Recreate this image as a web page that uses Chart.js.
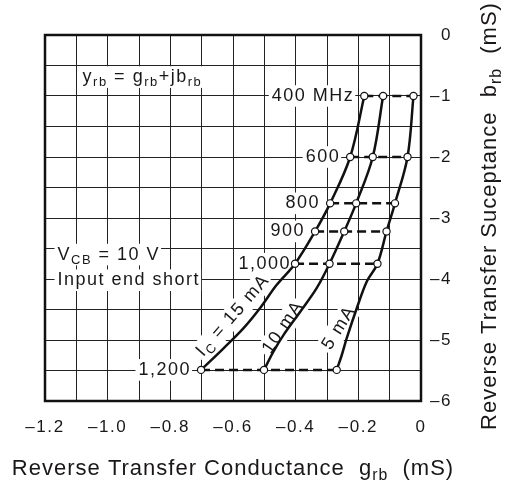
<!DOCTYPE html>
<html>
<head>
<meta charset="utf-8">
<script src="https://cdn.jsdelivr.net/npm/chart.js@4.4.1/dist/chart.umd.min.js"></script>
<style>
html, body { margin: 0; padding: 0; background: #fff; }
#wrap { width: 506px; height: 491px; position: relative; }
</style>
</head>
<body>
<div id="wrap"><canvas id="myChart"></canvas></div>
<script>
// marked points, one per frequency
var freqLabels = ['400 MHz', '600', '800', '900', '1,000', '1,200']
var suceptance = [-1, -2, -2.76, -3.22, -3.75, -5.49]
var g15mA = [-0.181, -0.226, -0.290, -0.338, -0.402, -0.702]
var g10mA = [-0.121, -0.154, -0.207, -0.245, -0.292, -0.501]
var g5mA = [-0.024, -0.043, -0.083, -0.110, -0.139, -0.269]
// extra points read along each curve between 1,000 and 1,200 MHz
var trace15G = [-0.461, -0.514, -0.567, -0.631]
var trace15B = [-4.10, -4.48, -4.81, -5.14]
var trace10G = [-0.333, -0.386, -0.439, -0.471]
var trace10B = [-4.15, -4.54, -4.92, -5.19]
var trace5G = [-0.173, -0.205, -0.237, -0.253]
var trace5B = [-4.04, -4.48, -4.97, -5.25]
var xTickValues = [-1.2, -1.0, -0.8, -0.6, -0.4, -0.2, 0]
var xTickLabels = ['–1.2', '–1.0', '–0.8', '–0.6', '–0.4', '–0.2', '0']
var yTickValues = [0, -1, -2, -3, -4, -5, -6]
var yTickLabels = ['0', '–1', '–2', '–3', '–4', '–5', '–6']

var FONT = "'Liberation Sans', Arial, sans-serif"
var INK = '#1a1718'

function pickLabel(v, values, labels) {
  for (var k = 0; k < values.length; k++) {
    if (Math.abs(v - values[k]) < 1e-6) return labels[k]
  }
  return ''
}

// text with subscripts, list = [{t, sub}]
function drawRich(ctx, list, x, y, size, align, box) {
  ctx.save()
  ctx.letterSpacing = size > 19 ? '1px' : '1.5px'
  var w = 0
  list.forEach(function (p) {
    ctx.font = (p.sub ? size * 0.72 : size) + 'px ' + FONT
    p.w = ctx.measureText(p.t).width
    w += p.w
  })
  var x0 = align === 'right' ? x - w : (align === 'center' ? x - w / 2 : x)
  if (box) {
    ctx.fillStyle = '#fff'
    ctx.fillRect(x0 - 3, y - size * 0.6, w + 4, size * 1.2)
  }
  ctx.fillStyle = INK
  ctx.textBaseline = 'middle'
  ctx.textAlign = 'left'
  list.forEach(function (p) {
    ctx.font = (p.sub ? size * 0.72 : size) + 'px ' + FONT
    ctx.fillText(p.t, x0, p.sub ? y + size * 0.32 : y)
    x0 += p.w
  })
  ctx.restore()
}

function rotated(ctx, list, x, y, size, angle, box) {
  ctx.save()
  ctx.translate(x, y)
  ctx.rotate(angle * Math.PI / 180)
  drawRich(ctx, list, 0, 0, size, 'center', box)
  ctx.restore()
}

var notes = {
  id: 'notes',
  beforeUpdate: function (chart) { chart.ctx.letterSpacing = '1.6px' },
  beforeDraw: function (chart) { chart.ctx.letterSpacing = '1.6px' },
  beforeDatasetsDraw: function (chart) {
    var ctx = chart.ctx, xs = chart.scales.x, ys = chart.scales.y, a = chart.chartArea
    ctx.save()
    ctx.strokeStyle = '#111'
    ctx.lineWidth = 2.5
    ctx.strokeRect(a.left, a.top, a.right - a.left, a.bottom - a.top)
    ctx.restore()

    freqLabels.forEach(function (f, i) {
      var gap = i === 4 ? 4 : 10
      drawRich(ctx, [{ t: f }], xs.getPixelForValue(g15mA[i]) - gap, ys.getPixelForValue(suceptance[i]), 18, 'right', true)
    })

    drawRich(ctx, [{ t: 'y' }, { t: 'rb', sub: true }, { t: ' = g' }, { t: 'rb', sub: true }, { t: '+jb' }, { t: 'rb', sub: true }],
      xs.getPixelForValue(-1.08), ys.getPixelForValue(-0.69), 18, 'left', true)
    drawRich(ctx, [{ t: 'V' }, { t: 'CB', sub: true }, { t: ' = 10 V' }],
      xs.getPixelForValue(-1.16), ys.getPixelForValue(-3.6), 18, 'left', true)
    drawRich(ctx, [{ t: 'Input end short' }],
      xs.getPixelForValue(-1.16), ys.getPixelForValue(-4.02), 18, 'left', true)

    rotated(ctx, [{ t: 'I' }, { t: 'C', sub: true }, { t: ' = 15 mA' }],
      xs.getPixelForValue(-0.60), ys.getPixelForValue(-4.60), 18, -49, true)
    rotated(ctx, [{ t: '10 mA' }],
      xs.getPixelForValue(-0.44), ys.getPixelForValue(-4.79), 18, -56, true)
    rotated(ctx, [{ t: '5 mA' }],
      xs.getPixelForValue(-0.262), ys.getPixelForValue(-4.8), 18, -58, true)
  },
  afterDraw: function (chart) {
    var ctx = chart.ctx
    drawRich(ctx, [{ t: 'Reverse Transfer Conductance  g' }, { t: 'rb', sub: true }, { t: '  (mS)' }],
      233, 469, 22, 'center', false)
    rotated(ctx, [{ t: 'Reverse Transfer Suceptance  b' }, { t: 'rb', sub: true }, { t: '  (mS)' }],
      490, 216, 22, -90, false)
  }
}

function curve(g, tg, tb) {
  var pts = []
  for (var k = 0; k < 5; k++) pts.push({ x: g[k], y: suceptance[k] })
  for (k = 0; k < tg.length; k++) pts.push({ x: tg[k], y: tb[k] })
  pts.push({ x: g[5], y: suceptance[5] })
  return {
    data: pts,
    borderColor: '#111',
    borderWidth: 2.5,
    tension: 0.35,
    pointRadius: 0
  }
}

function markers(g) {
  return {
    data: suceptance.map(function (b, i) { return { x: g[i], y: b } }),
    showLine: false,
    pointRadius: 3.6,
    pointBorderWidth: 1.2,
    pointBackgroundColor: '#fff',
    pointBorderColor: '#111'
  }
}

var datasets = [markers(g15mA), markers(g10mA), markers(g5mA),
  curve(g15mA, trace15G, trace15B), curve(g10mA, trace10G, trace10B), curve(g5mA, trace5G, trace5B)]
for (var i = 0; i < suceptance.length; i++) {
  datasets.push({
    data: [{ x: g15mA[i], y: suceptance[i] }, { x: g5mA[i], y: suceptance[i] }],
    borderColor: '#111',
    borderWidth: 2.5,
    borderDash: [9, 5],
    pointRadius: 0
  })
}

new Chart('myChart', {
  type: 'line',
  data: { datasets: datasets },
  plugins: [notes],
  options: {
    responsive: true,
    maintainAspectRatio: false,
    animation: false,
    events: [],
    layout: { padding: { left: 45, top: 35, right: 54, bottom: 0 } },
    plugins: { legend: { display: false }, tooltip: { enabled: false } },
    scales: {
      x: {
        type: 'linear', min: -1.2, max: 0,
        grid: { color: '#222', lineWidth: 1, drawTicks: false },
        border: { display: false },
        ticks: {
          stepSize: 0.1, autoSkip: false, maxRotation: 0, padding: 16,
          color: INK, font: { family: FONT, size: 17 },
          callback: function (v) { return pickLabel(v, xTickValues, xTickLabels) }
        },
        afterFit: function (s) { s.height = 90 }
      },
      y: {
        type: 'linear', position: 'right', min: -6, max: 0,
        grid: { color: '#222', lineWidth: 1, drawTicks: false },
        border: { display: false },
        ticks: {
          stepSize: 0.5, autoSkip: false, padding: 8, crossAlign: 'far',
          color: INK, font: { family: FONT, size: 17 },
          callback: function (v) { return pickLabel(v, yTickValues, yTickLabels) }
        },
        afterFit: function (s) { s.width = 31 }
      }
    }
  }
})
</script>
</body>
</html>
